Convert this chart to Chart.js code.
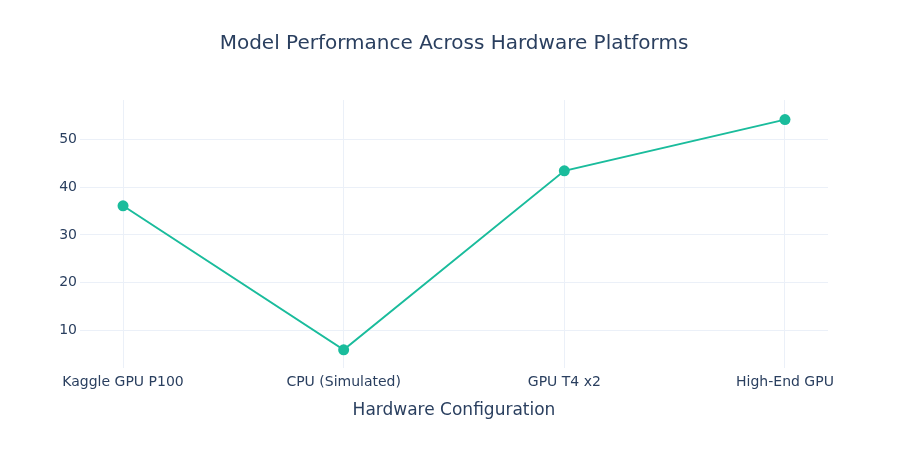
<!DOCTYPE html>
<html>
<head>
<meta charset="utf-8">
<script src="https://cdn.jsdelivr.net/npm/chart.js@4/dist/chart.umd.min.js"></script>
<style>
  html, body { margin: 0; padding: 0; background: #ffffff; }
  #wrap { width: 908px; height: 450px; position: relative; }
</style>
</head>
<body>
<div id="wrap"><canvas id="c" width="908" height="450"></canvas></div>
<script>
const categories = ["Kaggle GPU P100", "CPU (Simulated)", "GPU T4 x2", "High-End GPU"];
const performance = [36.1, 6.0, 43.4, 54.1];
const yTickValues = [10, 20, 30, 40, 50];
const chartTitle = "Model Performance Across Hardware Platforms";
const xAxisTitle = "Hardware Configuration";

const FONT = "'DejaVu Sans', Verdana, sans-serif";
const TEXT = "#2a3f5f";
const GRID = "#ebf0f8";
const LINE = "#1abc9c";

const points = performance.map((v, i) => ({ x: i, y: v }));

new Chart(document.getElementById('c'), {
  type: 'line',
  data: {
    datasets: [{
      data: points,
      borderColor: LINE,
      backgroundColor: LINE,
      borderWidth: 2,
      pointRadius: 5.5,
      pointHoverRadius: 5.5,
      pointBorderWidth: 0,
      tension: 0,
      fill: false
    }]
  },
  options: {
    responsive: false,
    animation: false,
    layout: { padding: 0 },
    plugins: {
      legend: { display: false },
      tooltip: { enabled: false },
      title: {
        display: true,
        text: chartTitle,
        color: TEXT,
        font: { family: FONT, size: 20, weight: 'normal' },
        padding: { top: 32, bottom: 44 }
      }
    },
    scales: {
      x: {
        type: 'linear',
        min: -0.195,
        max: 3.195,
        afterBuildTicks: s => { s.ticks = categories.map((c, i) => ({ value: i })); },
        afterFit: s => { s.height = 82; },
        ticks: {
          includeBounds: false,
          autoSkip: false,
          maxRotation: 0,
          padding: 6,
          color: TEXT,
          font: { family: FONT, size: 14 },
          callback: v => categories[v]
        },
        grid: { color: GRID, drawTicks: false, lineWidth: 1 },
        border: { display: false },
        title: {
          display: true,
          text: xAxisTitle,
          color: TEXT,
          font: { family: FONT, size: 17 },
          padding: { top: 0, bottom: 29.5 }
        }
      },
      y: {
        type: 'linear',
        min: 2.2,
        max: 58.2,
        afterBuildTicks: s => { s.ticks = yTickValues.map(v => ({ value: v })); },
        afterFit: s => { s.width = 80; },
        ticks: {
          includeBounds: false,
          padding: 3,
          color: TEXT,
          font: { family: FONT, size: 14 }
        },
        grid: { color: GRID, drawTicks: false, lineWidth: 1 },
        border: { display: false }
      },
      spacer: {
        type: 'linear',
        position: 'right',
        display: true,
        afterFit: s => { s.width = 80; },
        ticks: { display: false },
        grid: { display: false, drawTicks: false },
        border: { display: false }
      }
    }
  }
});
</script>
</body>
</html>
